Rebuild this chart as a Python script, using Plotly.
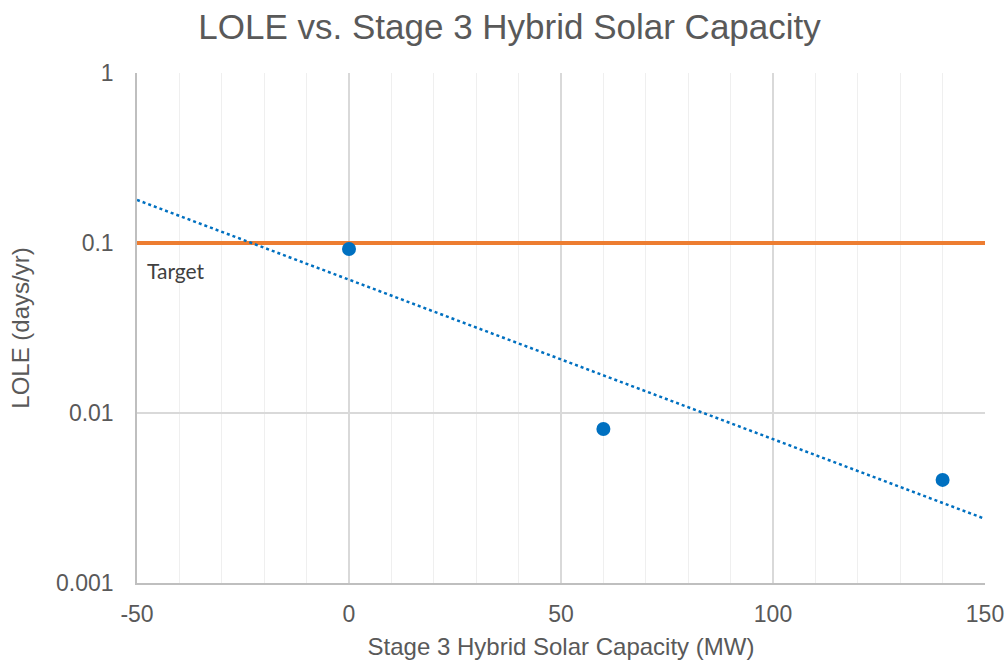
import numpy as np
import plotly.graph_objects as go

# Data
capacity_mw = [0, 60, 140]
lole = [0.0922, 0.00805, 0.00404]
target_x = [-50, 150]
target_y = [0.1, 0.1]
y_tickvals = [0.001, 0.01, 0.1, 1]
y_ticktext = ["0.001", "0.01", "0.1", "1"]
x_tickvals = [-50, 0, 50, 100, 150]
x_ticktext = ["-50", "0", "50", "100", "150"]

# Exponential trendline fitted to the data (as in the original spreadsheet)
slope, intercept = np.polyfit(capacity_mw, np.log10(lole), 1)
trend_x = np.linspace(-50, 150, 201)
trend_y = 10 ** (intercept + slope * trend_x)

TXT = "#595959"
fig = go.Figure()
fig.add_trace(go.Scatter(x=target_x, y=target_y, mode="lines",
                         line=dict(color="#ED7D31", width=4), name="Target",
                         hoverinfo="skip"))
fig.add_trace(go.Scatter(x=trend_x, y=trend_y, mode="lines",
                         line=dict(color="#0070C0", width=2.5, dash="dot"),
                         name="Expon."))
fig.add_trace(go.Scatter(x=capacity_mw, y=lole, mode="markers",
                         marker=dict(color="#0070C0", size=14), name="LOLE"))

fig.add_annotation(x=-50, y=-1, xref="x", yref="y", text="Target",
                   showarrow=False, xanchor="left", yanchor="top",
                   xshift=8, yshift=-13,
                   font=dict(family="Lato, Liberation Sans, sans-serif", size=21, color="#404040"))

fig.update_layout(
    width=1005, height=664,
    margin=dict(l=137, r=20, t=73, b=81),
    paper_bgcolor="white", plot_bgcolor="white",
    showlegend=False,
    font=dict(family="Liberation Sans, Arial, sans-serif", color=TXT, size=23),
    title=dict(text="LOLE vs. Stage 3 Hybrid Solar Capacity", x=0.507, xanchor="center",
               y=0.96, yanchor="middle", font=dict(size=35, color=TXT)),
    xaxis=dict(range=[-50, 150], tickvals=x_tickvals, ticktext=x_ticktext, showgrid=True,
               gridcolor="#d9d9d9", gridwidth=1.5, zeroline=False, automargin=False,
               showline=True, linecolor="#bfbfbf", linewidth=1.5,
               ticks="outside", ticklen=10, tickcolor="rgba(0,0,0,0)",
               minor=dict(dtick=10, showgrid=True, gridcolor="#efefef", gridwidth=1),
               title=dict(text="Stage 3 Hybrid Solar Capacity (MW)", standoff=12,
                          font=dict(size=24))),
    yaxis=dict(type="log", range=[-3, 0], tickvals=y_tickvals, ticktext=y_ticktext,
               showgrid=True, gridcolor="#d9d9d9", gridwidth=1.5, zeroline=False,
               automargin=False,
               showline=True, linecolor="#bfbfbf", linewidth=1.5,
               ticks="outside", ticklen=17, tickcolor="rgba(0,0,0,0)",
               title=dict(text="LOLE (days/yr)", standoff=20, font=dict(size=24))),
)

fig.write_html("out.html", config={"displayModeBar": False},
               post_script="document.body.style.margin='0';")
